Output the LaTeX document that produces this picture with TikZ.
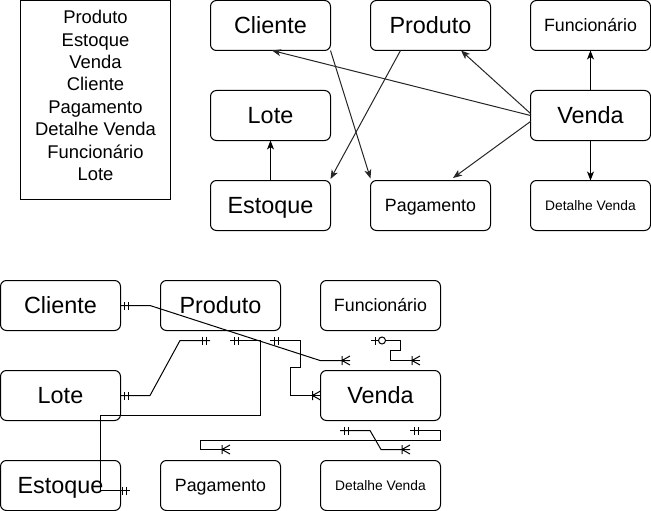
\documentclass[tikz,border=0pt]{standalone}
\usepackage{fontspec}
\setmainfont{Liberation Sans}
\usetikzlibrary{arrows.meta,calc}
\begin{document}
\begin{tikzpicture}[x=1pt,y=-1pt,line width=1pt,
  box/.style={draw=black,fill=white,rounded corners=6pt,minimum width=120pt,minimum height=50pt,inner sep=0pt,outer sep=0pt,anchor=north west,text=black},
  big/.style={font=\fontsize{23.4}{28}\selectfont,text height=16.8pt,text depth=0pt},
  mid/.style={font=\fontsize{17.8}{21}\selectfont,text height=12.7pt,text depth=0pt},
  sml/.style={font=\fontsize{13.8}{16}\selectfont,text height=9.9pt,text depth=0pt},
  arr/.style={draw=black!85,-{Stealth[length=9pt,width=7pt,inset=2.5pt]}},
  conn/.style={draw=black,line width=1pt},
  mandone/.pic={\draw[line width=1pt] (-4,-4)--(-4,4) (-8,-4)--(-8,4);},
  mandmany/.pic={\draw[line width=1pt] (-8,-4.5)--(-8,4.5) (-8,0)--(0,-4.5) (-8,0)--(0,4.5);},
  zeroone/.pic={\draw[line width=1pt] (-4,-4)--(-4,4); \draw[line width=1pt,fill=white] (-11,0) circle (3.5pt);},
]
\useasboundingbox (0,0) rectangle (651,511);

% legend
\draw[black] (20.5,0.5) rectangle (170.5,199.5);
\node[align=center,inner sep=0pt,font=\fontsize{18.4}{22.4}\selectfont] (legend) at (95.5,95.6)
  {Produto\\Estoque\\Venda\\Cliente\\Pagamento\\Detalhe Venda\\Funcionário\\Lote};

% top diagram
\node[box,big] (cliT) at (210.5,0.5) {Cliente};
\node[box,big] (proT) at (370.5,0.5) {Produto};
\node[box,mid] (funT) at (530.5,0.5) {Funcionário};
\node[box,big] (lotT) at (210.5,90.5) {Lote};
\node[box,big] (venT) at (530.5,90.5) {Venda};
\node[box,big] (estT) at (210.5,180.5) {Estoque};
\node[box,mid] (pagT) at (370.5,180.5) {Pagamento};
\node[box,sml] (detT) at (530.5,180.5) {Detalhe Venda};

\draw[arr] (venT.west) -- ($(cliT.south)+(1.5,0)$);
\draw[arr] ($(venT.west)+(0,-2)$) -- ($(proT.south)+(30.5,0)$);
\draw[arr] ($(venT.west)+(0,6)$) -- ($(pagT.north)+(22.5,-2.5)$);
\draw[arr] (cliT.south east) -- ($(pagT.north west)+(0,-2)$);
\draw[arr] ($(proT.south)+(-30,0)$) -- ($(estT.north east)+(0,-1.5)$);
\draw[arr,draw=black] (estT.north) -- (lotT.south);
\draw[arr,draw=black] (venT.north) -- (funT.south);
\draw[arr,draw=black] (venT.south) -- (detT.north);

% bottom ER diagram
\node[box,big] (cliB) at (0.5,280.5) {Cliente};
\node[box,big] (proB) at (160.5,280.5) {Produto};
\node[box,mid] (funB) at (320.5,280.5) {Funcionário};
\node[box,big] (lotB) at (0.5,370.5) {Lote};
\node[box,big] (venB) at (320.5,370.5) {Venda};
\node[box,big] (estB) at (0.5,460.5) {Estoque};
\node[box,mid] (pagB) at (160.5,460.5) {Pagamento};
\node[box,sml] (detB) at (320.5,460.5) {Detalhe Venda};

\coordinate (e1) at (350,360.5);
\coordinate (z1) at (371,340.5);
\coordinate (z2) at (420,360.5);
\coordinate (l1) at (210,340.5);
\coordinate (p1) at (230,340.5);
\coordinate (p2) at (130,490.5);
\coordinate (p3) at (270,340.5);
\coordinate (d1) at (340,430.5);
\coordinate (d2) at (410,449.5);
\coordinate (d3) at (410,430.5);
\coordinate (d4) at (230,449.5);

\draw[conn] (cliB.east) -- (150,305.5) -- (320,360.5) -- (e1);
\pic[rotate=180] at (cliB.east) {mandone};
\pic at (e1) {mandmany};

\draw[conn] (z1) -- (400.5,340.5) -- (400.5,350.5) -- (390.5,350.5) -- (390.5,360.5) -- (z2);
\pic[rotate=180] at (z1) {zeroone};
\pic at (z2) {mandmany};

\draw[conn] (lotB.east) -- (150,395.5) -- (180,340.5) -- (l1);
\pic[rotate=180] at (lotB.east) {mandone};
\pic at (l1) {mandone};

\draw[conn] (p1) -- (260.5,340.5) -- (260.5,415.5) -- (100.5,415.5) -- (100.5,490.5) -- (p2);
\pic[rotate=180] at (p1) {mandone};
\pic at (p2) {mandone};

\draw[conn] (p3) -- (300.5,340.5) -- (300.5,367.5) -- (290.5,367.5) -- (290.5,395.5) -- (venB.west);
\pic[rotate=180] at (p3) {mandone};
\pic at (venB.west) {mandmany};

\draw[conn] (d1) -- (370,430.5) -- (381,449.5) -- (d2);
\pic[rotate=180] at (d1) {mandone};
\pic at (d2) {mandmany};

\draw[conn] (d3) -- (440.5,430.5) -- (440.5,440.5) -- (200.5,440.5) -- (200.5,449.5) -- (d4);
\pic[rotate=180] at (d3) {mandone};
\pic at (d4) {mandmany};
\end{tikzpicture}
\end{document}
